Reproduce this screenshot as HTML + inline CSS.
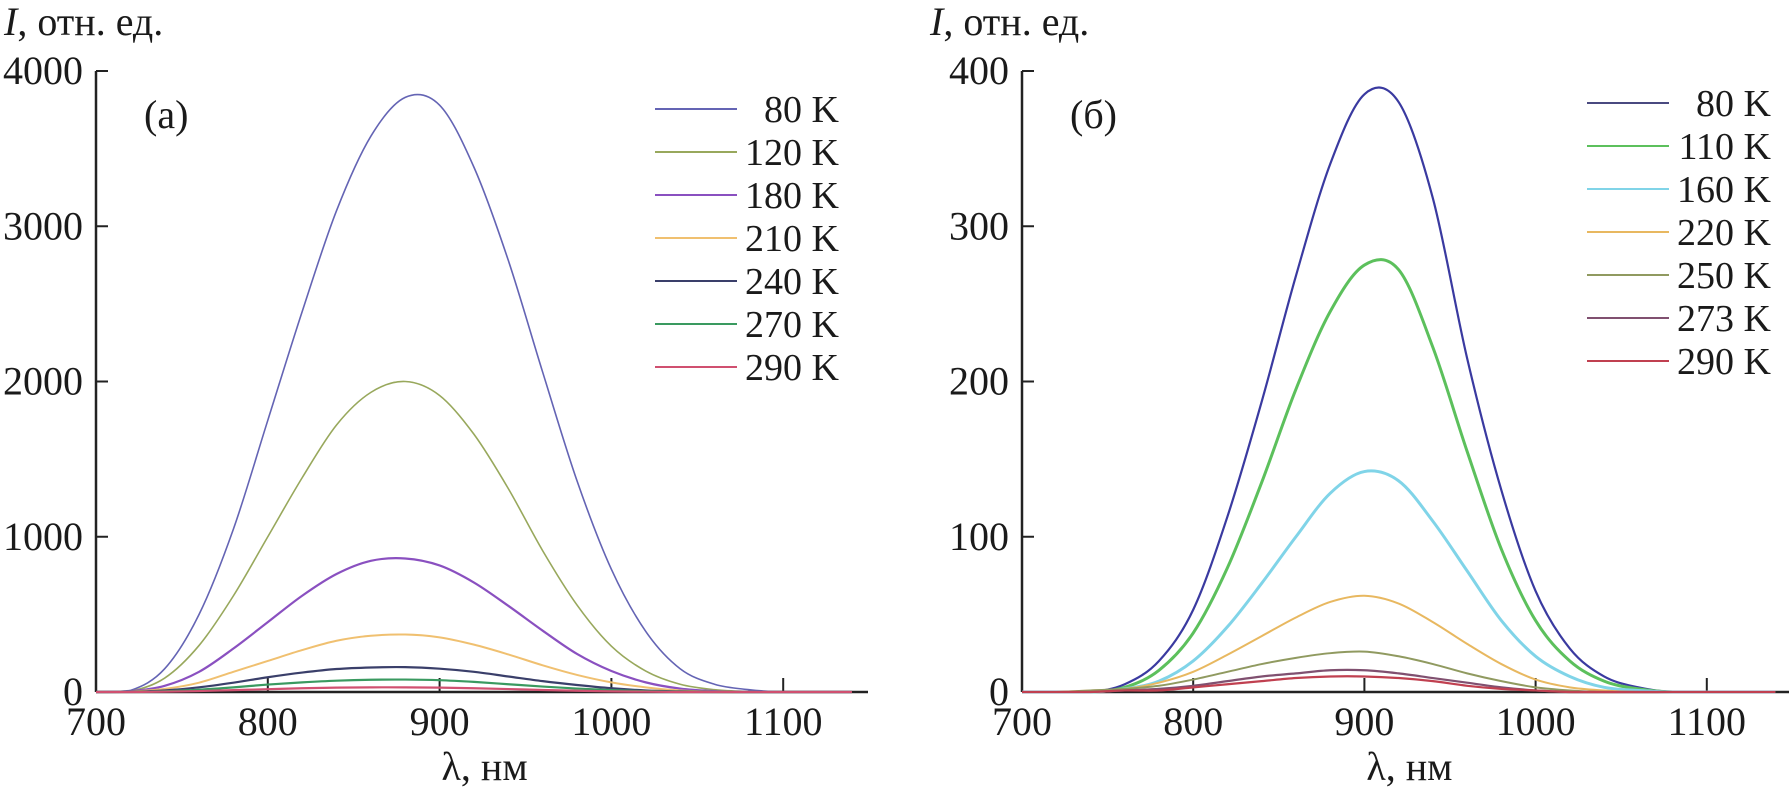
<!DOCTYPE html>
<html><head><meta charset="utf-8">
<style>
html,body{margin:0;padding:0;background:#fff;}
svg{display:block;}
text{font-family:"Liberation Serif","DejaVu Serif",serif;fill:#1a1a1a;}
</style></head>
<body>
<svg id="chart" width="1789" height="792" viewBox="0 0 1789 792" xmlns="http://www.w3.org/2000/svg"></svg>
<script>
// ---- data ----
const wavelengths = [700,720,740,760,780,800,820,840,860,880,900,920,940,960,980,1000,1020,1040,1060,1080,1100,1120,1140];
const xTicks = [700,800,900,1000,1100];
const yTicksA = [0,1000,2000,3000,4000];
const yTicksB = [0,100,200,300,400];
const labelsA = ["80 K","120 K","180 K","210 K","240 K","270 K","290 K"];
const labelsB = ["80 K","110 K","160 K","220 K","250 K","273 K","290 K"];
const a80  = [0,10,150,500,1050,1750,2450,3100,3580,3830,3780,3380,2780,2060,1360,790,390,150,50,15,0,0,0];
const a120 = [0,5,90,300,620,1000,1380,1720,1930,2000,1910,1660,1310,910,560,295,135,50,15,3,0,0,0];
const a180 = [0,5,40,130,280,450,620,760,845,860,815,705,555,395,245,135,62,22,6,1,0,0,0];
const a210 = [0,3,20,60,130,200,270,330,362,370,352,305,242,172,110,62,30,10,3,0,0,0,0];
const a240 = [0,2,10,30,60,95,125,148,158,160,150,130,100,70,45,24,10,4,1,0,0,0,0];
const a270 = [0,1,5,15,30,48,62,73,79,80,76,65,50,35,22,12,5,2,0,0,0,0,0];
const a290 = [0,0,2,6,12,18,24,28,30,30,28,24,19,13,8,4,2,0,0,0,0,0,0];
const b80  = [0,0,0,5,20,53,113,187,268,340,385,380,318,215,130,65,28,10,3,0,0,0,0];
const b110 = [0,0,0,3,14,38,80,135,195,245,275,272,222,155,92,46,20,7,2,0,0,0,0];
const b160 = [0,0,0,2,7,20,42,70,100,128,142,136,110,78,46,23,10,3,1,0,0,0,0];
const b220 = [0,0,1,2,6,13,24,36,48,58,62,57,45,31,18,8,3,1,0,0,0,0,0];
const b250 = [0,0,1,2,4,8,13,18,22,25,26,23,18,12,7,3,1,0,0,0,0,0,0];
const b273 = [0,0,0,1,2,4,7,10,12,14,14,12,9,6,3,1,0,0,0,0,0,0,0];
const b290 = [0,0,0,1,1,3,5,7,9,10,10,9,7,4,2,1,0,0,0,0,0,0,0];

const seriesA = [a80,a120,a180,a210,a240,a270,a290];
const seriesB = [b80,b110,b160,b220,b250,b273,b290];
const colorsA = ["#6464b4","#98a85c","#8a50c0","#f0c070","#3a3f6a","#3a9a60","#d05070"];
const colorsB = ["#3a3aa0","#5cc05c","#80d4e8","#e8b860","#909a60","#805070","#c04050"];
const legendColorsB = ["#4a4a80","#5cc05c","#80d4e8","#e8b860","#909a60","#805070","#c04050"];
const widthsA = [1.6,1.6,2.2,2,2.2,2.2,2.2];
const widthsB = [2.2,3,3,2,2,2.2,2.2];

const NS="http://www.w3.org/2000/svg";
const svg=document.getElementById('chart');
function mk(tag,attrs,parent){const e=document.createElementNS(NS,tag);for(const k in attrs)e.setAttribute(k,attrs[k]);(parent||svg).appendChild(e);return e;}

function panel(cfg){
  const g=mk('g',{});
  
  
  const X=v=>cfg.x0+(v-700)*cfg.pxPerNm;
  const Y=v=>cfg.yBase-(v/cfg.yMax)*(cfg.yBase-cfg.yTop);
  const ya=mk('line',{x1:cfg.x0,y1:cfg.yTop,x2:cfg.x0,y2:cfg.yBase,stroke:"#222","stroke-width":2.5},g);
  
  
  const xa=mk('line',{x1:cfg.x0,y1:cfg.yBase,x2:cfg.xEnd,y2:cfg.yBase,stroke:"#222","stroke-width":2.5},g);
  
  
  cfg.yTicks.forEach(t=>{
    const tk=mk('line',{x1:cfg.x0,y1:Y(t),x2:cfg.x0+12,y2:Y(t),stroke:"#222","stroke-width":2},g);
    
    
    const tl=mk('text',{x:cfg.x0-13,y:Y(t)+13,"font-size":40,"text-anchor":"end"},g);
    tl.textContent=t;
    
    
  });
  xTicks.forEach(t=>{
    if(t>700){
      const tk=mk('line',{x1:X(t),y1:cfg.yBase,x2:X(t),y2:cfg.yBase-14,stroke:"#222","stroke-width":2},g);
      
      
    }
    const tl=mk('text',{x:X(t),y:735,"font-size":40,"text-anchor":"middle"},g);
    tl.textContent=t;
    
    
  });
  cfg.series.forEach((s,i)=>{
    const pts=wavelengths.map((w,j)=>[X(w),Y(s[j])]).filter(p=>p[0]<=cfg.xEnd+40);
    let d=`M${pts[0][0]},${pts[0][1]}`;
    for(let j=0;j<pts.length-1;j++){
      const p0=pts[j-1]||pts[j],p1=pts[j],p2=pts[j+1],p3=pts[j+2]||p2;
      const c1=[p1[0]+(p2[0]-p0[0])/6,p1[1]+(p2[1]-p0[1])/6];
      const c2=[p2[0]-(p3[0]-p1[0])/6,p2[1]-(p3[1]-p1[1])/6];
      d+=` C${c1[0]},${Math.min(c1[1],cfg.yBase)} ${c2[0]},${Math.min(c2[1],cfg.yBase)} ${p2[0]},${p2[1]}`;
    }
    const p=mk('path',{d:d,fill:"none",stroke:cfg.colors[i],"stroke-width":cfg.widths[i],"clip-path":`url(#${cfg.clip})`},g);
    
    
  });
  cfg.labels.forEach((lab,i)=>{
    const y=cfg.legY+i*43;
    const l=mk('line',{x1:cfg.legX,y1:y,x2:cfg.legX+82,y2:y,stroke:cfg.legColors[i],"stroke-width":2},g);
    
    
    const t=mk('text',{x:cfg.legX+184,y:y+13,"font-size":38,"text-anchor":"end"},g);
    t.textContent=lab;
    
    
  });
  const pl=mk('text',{x:cfg.x0+48,y:128,"font-size":40},g);
  pl.textContent=cfg.panelLabel;
  
  
  const yt=mk('text',{x:cfg.x0-92,y:35,"font-size":40},g);
  yt.innerHTML='<tspan font-style="italic">I</tspan>, отн. ед.';
  
  
  const xt=mk('text',{x:X(900)+45,y:780,"font-size":40,"text-anchor":"middle"},g);
  xt.textContent='λ, нм';
  
  
}
const defs=mk('defs',{});
const c1=mk('clipPath',{id:'clipA'},defs);mk('rect',{x:96,y:0,width:772,height:694},c1);
const c2=mk('clipPath',{id:'clipB'},defs);mk('rect',{x:1022,y:0,width:767,height:694},c2);

panel({name:'panel-a',x0:96,xEnd:868,pxPerNm:1.718,yBase:692,yTop:71,yMax:4000,yTicks:yTicksA,
  series:seriesA,colors:colorsA,legColors:colorsA,widths:widthsA,labels:labelsA,legX:655,legY:109,panelLabel:'(a)',clip:'clipA'});
panel({name:'panel-b',x0:1022,xEnd:1789,pxPerNm:1.712,yBase:692,yTop:71,yMax:400,yTicks:yTicksB,
  series:seriesB,colors:colorsB,legColors:legendColorsB,widths:widthsB,labels:labelsB,legX:1587,legY:103,panelLabel:'(б)',clip:'clipB'});
</script>
</body></html>
